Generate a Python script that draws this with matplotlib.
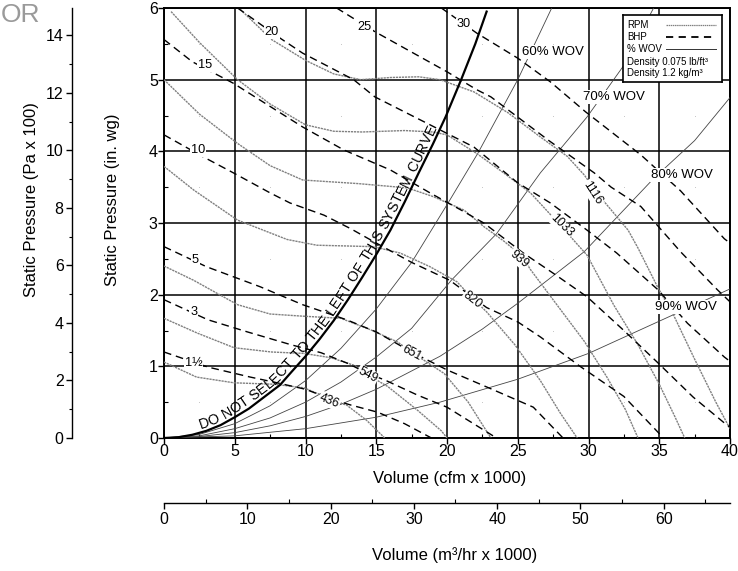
import numpy as np
import matplotlib
matplotlib.use("Agg")
import matplotlib.pyplot as plt
from matplotlib.font_manager import FontProperties
from matplotlib.ticker import MultipleLocator

plt.rcParams['font.family'] = ['Liberation Sans', 'DejaVu Sans']

# ---------------- data (Volume in cfm x 1000, pressure in in. wg) ----------------
rpm_names = ['436', '549', '651', '820', '939', '1033', '1116']
r436_x = [0, 2.3, 4.95, 7.8, 9.9, 11.1, 11.7, 12.9, 14.3, 15.6]
r436_y = [1.06, 0.85, 0.77, 0.75, 0.70, 0.60, 0.53, 0.46, 0.25, 0.0]
r549_x = [0, 2.4, 4.95, 7.6, 9.9, 11.8, 13.5, 14.4, 15.8, 17.9, 19.6, 20.0]
r549_y = [1.67, 1.46, 1.26, 1.20, 1.18, 1.12, 1.01, 0.88, 0.72, 0.39, 0.10, 0.0]
r651_x = [0, 2.1, 5.2, 7.5, 9.8, 12.5, 14.6, 16.5, 17.5, 18.1, 19.8, 21.5, 23.1]
r651_y = [2.40, 2.20, 1.86, 1.73, 1.70, 1.67, 1.51, 1.34, 1.20, 1.12, 0.90, 0.50, 0.0]
r820_x = [0, 2.1, 5.2, 8.7, 10.8, 14.8, 16.7, 18.8, 20.7, 21.7, 22.8, 24.8, 26.6, 28.0, 29.2]
r820_y = [3.79, 3.46, 3.04, 2.77, 2.69, 2.67, 2.58, 2.39, 2.18, 1.97, 1.76, 1.30, 0.80, 0.35, 0.0]
r939_x = [0, 2.5, 5.2, 7.5, 9.8, 13.7, 17.2, 19.0, 21.2, 22.6, 24.0, 25.3, 25.9, 27.8, 29.7, 31.3, 32.6, 33.5]
r939_y = [5.00, 4.52, 4.11, 3.80, 3.60, 3.55, 3.49, 3.37, 3.18, 2.95, 2.75, 2.54, 2.35, 1.85, 1.35, 0.85, 0.40, 0.0]
r1033_x = [0.5, 2.5, 5.2, 7.5, 10, 12, 14, 17, 19, 20, 22.1, 24, 25.9, 28, 29.9, 31.8, 33.5, 35.0, 36.1, 36.8]
r1033_y = [5.95, 5.52, 5.0, 4.66, 4.37, 4.28, 4.27, 4.29, 4.27, 4.23, 3.97, 3.70, 3.42, 2.97, 2.55, 1.85, 1.30, 0.75, 0.30, 0.0]
r1116_x = [5.4, 7.6, 10, 12, 13.9, 16, 18, 19.5, 21.9, 24.3, 26.6, 28.5, 29.7, 30.5, 31.1, 32.8, 33.5, 34.9, 36.0, 37.5, 39.0, 40.0]
r1116_y = [5.98, 5.56, 5.27, 5.08, 5.0, 5.03, 5.04, 5.0, 4.83, 4.54, 4.20, 3.93, 3.67, 3.45, 3.30, 2.90, 2.65, 2.10, 1.72, 1.10, 0.50, 0.13]
rpm_label_x = [11.7, 14.4, 17.5, 21.8, 25.1, 28.1, 30.3]
rpm_label_y = [0.52, 0.88, 1.19, 1.92, 2.50, 2.97, 3.42]
rpm_label_rot = [-22, -28, -28, -38, -40, -45, -57]

bhp_names = ['1½', '3', '5', '10', '15', '20', '25', '30']
b1_x = [0, 3.1, 6.1, 8.0, 10.0, 11.7, 13.2, 15.1, 17.0, 18.9]
b1_y = [1.20, 0.99, 0.85, 0.77, 0.68, 0.55, 0.46, 0.36, 0.20, 0.0]
b3_x = [0, 3.1, 5.9, 9.0, 11.1, 13.0, 14.4, 15.6, 17.9, 20.0, 23.5]
b3_y = [1.93, 1.65, 1.48, 1.30, 1.19, 1.04, 0.90, 0.81, 0.60, 0.43, 0.0]
b5_x = [0, 3.0, 6.8, 9.8, 12.9, 15.0, 17.5, 20.0, 23.3, 26.1, 28.2]
b5_y = [2.67, 2.39, 2.11, 1.86, 1.65, 1.48, 1.20, 0.95, 0.67, 0.43, 0.0]
b10_x = [0, 2.8, 4.9, 7.5, 8.9, 11.3, 13.2, 15.0, 17.5, 20.2, 22.8, 25.0, 26.6, 29.4, 32.5, 35.3]
b10_y = [4.23, 3.92, 3.70, 3.42, 3.28, 3.11, 2.92, 2.72, 2.45, 2.20, 1.82, 1.62, 1.41, 1.00, 0.58, 0.0]
b15_x = [0, 2.0, 4.9, 9.8, 12.7, 16.0, 18.8, 21.0, 22.6, 25.4, 27.5, 29.9, 32.5, 34.9, 37.4, 39.6, 40]
b15_y = [5.56, 5.25, 4.95, 4.34, 4.02, 3.74, 3.42, 3.18, 3.0, 2.58, 2.30, 1.97, 1.50, 1.05, 0.57, 0.21, 0.15]
b20_x = [5.2, 8.2, 9.8, 13.4, 14.9, 17.5, 20.0, 21.9, 25.0, 27.3, 29.9, 32.0, 34.9, 37.0, 39.6, 40]
b20_y = [6.0, 5.58, 5.37, 5.0, 4.76, 4.50, 4.25, 4.06, 3.56, 3.28, 2.90, 2.58, 2.07, 1.60, 1.13, 1.07]
b25_x = [12.2, 14.9, 20.0, 22.1, 23.1, 27.2, 30.4, 31.6, 33.7, 36.5, 39.1, 40]
b25_y = [6.0, 5.67, 5.11, 4.86, 4.76, 4.15, 3.70, 3.50, 3.23, 2.60, 2.07, 1.90]
b30_x = [19.6, 22.1, 25.0, 27.3, 29.8, 33.7, 36.5, 39.6, 40]
b30_y = [6.0, 5.65, 5.30, 4.97, 4.55, 3.95, 3.45, 2.78, 2.72]
bhp_label_x = [2.1, 2.1, 2.2, 2.4, 2.9, 7.6, 14.2, 21.2]
bhp_label_y = [1.05, 1.76, 2.49, 4.02, 5.20, 5.67, 5.73, 5.77]

wov_names = ['60% WOV', '70% WOV', '80% WOV', '90% WOV']
w60_x = [0, 2.5, 5, 7.5, 10, 12.5, 15, 17.5, 20.2, 22.2, 25.0, 27.4]
w60_y = [0, 0.05, 0.20, 0.45, 0.80, 1.25, 1.80, 2.45, 3.32, 3.98, 5.0, 6.0]
w70_x = [0, 2.5, 5, 7.5, 10, 12.5, 15, 17.5, 20.3, 23.5, 26.6, 29.9, 32.5, 34.6]
w70_y = [0, 0.03, 0.13, 0.28, 0.50, 0.78, 1.13, 1.53, 2.20, 2.85, 3.70, 4.48, 5.20, 6.0]
w80_x = [0, 2.5, 5, 7.5, 10, 12.5, 15, 19.5, 22.5, 25, 29.7, 34.6, 37.5, 40]
w80_y = [0, 0.02, 0.075, 0.17, 0.30, 0.47, 0.68, 1.14, 1.52, 1.88, 2.60, 3.62, 4.15, 4.75]
w90_x = [0, 5, 10, 15, 19.5, 25, 30, 36, 40]
w90_y = [0, 0.03, 0.13, 0.29, 0.50, 0.82, 1.18, 1.72, 2.08]
wov_label_x = [27.5, 31.8, 36.6, 36.9]
wov_label_y = [5.39, 4.76, 3.67, 1.83]

sys_x = [0, 1, 2, 3, 4, 5, 6, 7, 8.2, 9, 10, 11, 12, 13, 14, 15, 16, 17, 18, 19, 19.9, 21, 22, 22.8]
sys_y = [0, 0.01, 0.045, 0.10, 0.18, 0.29, 0.41, 0.56, 0.74, 0.92, 1.14, 1.38, 1.64, 1.93,
         2.24, 2.56, 2.90, 3.29, 3.70, 4.10, 4.48, 5.0, 5.50, 5.95]
sys_text = 'DO NOT SELECT TO THE LEFT OF THIS SYSTEM CURVE'

cfm_max = 40
inwg_max = 6
pa_per_inwg = 249.09 / 100      # Pa x 100
m3h_per_cfm = 1.699

# ---------------- layout ----------------
W, H = 738, 571
fig = plt.figure(figsize=(W / 100, H / 100), dpi=100)
def fx(px): return px / W
def fy(py): return 1 - py / H
L, R, T, B = 164, 730, 8, 438
TICK_FS = 11.5
TITLE_FS = 12

ax = fig.add_axes([fx(L), fy(B), (R - L) / W, (B - T) / H])
ax.set_xlim(0, cfm_max)
ax.set_ylim(0, inwg_max)
ax.xaxis.set_major_locator(MultipleLocator(5))
ax.xaxis.set_minor_locator(MultipleLocator(2.5))
ax.yaxis.set_major_locator(MultipleLocator(1))
ax.yaxis.set_minor_locator(MultipleLocator(0.5))
ax.tick_params(which='major', direction='out', length=4, width=1, labelsize=TICK_FS, pad=0.5)
ax.tick_params(which='minor', direction='in', length=3, width=0.8)
ax.grid(which='major', color='black', lw=1.1)
ax.set_axisbelow(True)
for s in ax.spines.values():
    s.set_linewidth(1.4)

# tiny marks in the cell centres
cx = np.arange(2.5, cfm_max, 5)
cy = np.arange(0.5, inwg_max, 1)
CX, CY = np.meshgrid(cx, cy)
ax.plot(CX.ravel(), CY.ravel(), ls='none', marker='s', ms=0.7, mew=0, color='#c8c8c8', zorder=1)

rpm_curves = [(r436_x, r436_y), (r549_x, r549_y), (r651_x, r651_y), (r820_x, r820_y),
              (r939_x, r939_y), (r1033_x, r1033_y), (r1116_x, r1116_y)]
bhp_curves = [(b1_x, b1_y), (b3_x, b3_y), (b5_x, b5_y), (b10_x, b10_y),
              (b15_x, b15_y), (b20_x, b20_y), (b25_x, b25_y), (b30_x, b30_y)]
wov_curves = [(w60_x, w60_y), (w70_x, w70_y), (w80_x, w80_y), (w90_x, w90_y)]

for xs, ys in wov_curves:
    ax.plot(xs, ys, color='#444444', lw=0.6, zorder=3)
for xs, ys in rpm_curves:
    ax.plot(xs, ys, color='#808080', lw=1.0, ls=(0, (1.6, 0.6)), zorder=4)
for xs, ys in bhp_curves:
    ax.plot(xs, ys, color='black', lw=1.0, ls=(0, (5.5, 3.5)), zorder=5)
ax.plot(sys_x, sys_y, color='black', lw=1.6, zorder=6)

wb = dict(fc='white', ec='none', pad=0.6)
for n, x, y, r in zip(rpm_names, rpm_label_x, rpm_label_y, rpm_label_rot):
    ax.text(x, y, n, rotation=r, ha='center', va='center', fontsize=8.8,
            bbox=wb, zorder=8, rotation_mode='anchor')
for n, x, y in zip(bhp_names, bhp_label_x, bhp_label_y):
    ax.text(x, y, n, ha='center', va='center', fontsize=9.2, bbox=wb, zorder=8)
for n, x, y in zip(wov_names, wov_label_x, wov_label_y):
    ax.text(x, y, n, ha='center', va='center', fontsize=9.5, bbox=wb, zorder=8)

# ---------------- text along the system curve ----------------
def text_along(ax, xs, ys, text, x_start, x_end, offset, fs):
    fig.canvas.draw()
    rend = fig.canvas.get_renderer()
    pts = ax.transData.transform(np.column_stack([xs, ys]))
    d = np.hypot(*np.diff(pts, axis=0).T)
    s = np.concatenate([[0], np.cumsum(d)])
    s0 = np.interp(x_start, xs, s)
    s1 = np.interp(x_end, xs, s)
    prop = FontProperties(family='Liberation Sans', size=fs)
    wI = rend.get_text_width_height_descent('I', prop, ismath=False)[0]
    def width(t):
        return rend.get_text_width_height_descent(t + 'I', prop, ismath=False)[0] - wI
    total = width(text)
    extra = ((s1 - s0) - total) / (len(text) - 1)
    for i, ch in enumerate(text):
        if ch == ' ':
            continue
        a = width(text[:i]) + extra * i
        b = width(text[:i + 1]) + extra * i
        sc = s0 + (a + b) / 2
        p = np.array([np.interp(sc, s, pts[:, 0]), np.interp(sc, s, pts[:, 1])])
        pa = np.array([np.interp(sc - 10, s, pts[:, 0]), np.interp(sc - 10, s, pts[:, 1])])
        pb = np.array([np.interp(sc + 10, s, pts[:, 0]), np.interp(sc + 10, s, pts[:, 1])])
        dx, dy = pb - pa
        ang = np.degrees(np.arctan2(dy, dx))
        nrm = np.array([-dy, dx]) / np.hypot(dx, dy)
        q = p + nrm * offset
        xd, yd = ax.transData.inverted().transform(q)
        ax.text(xd, yd, ch, rotation=ang, rotation_mode='anchor', ha='center',
                va='baseline', fontproperties=prop, zorder=9)

text_along(ax, sys_x, sys_y, sys_text, 2.7, 19.5, 3.5, 10.3)

# ---------------- legend box ----------------
lg = fig.add_axes([fx(623), fy(82), 99 / W, 67 / H])
lg.set_xlim(0, 99)
lg.set_ylim(67, 0)
lg.set_xticks([]); lg.set_yticks([])
for s in lg.spines.values():
    s.set_linewidth(1.2)
lg.set_zorder(10)
LFS = 7
lg.text(4, 10, 'RPM', fontsize=LFS, va='center')
lg.text(4, 22, 'BHP', fontsize=LFS, va='center')
lg.text(4, 34, '% WOV', fontsize=LFS, va='center')
lg.text(4, 47, 'Density 0.075 lb/ft³', fontsize=LFS, va='center')
lg.text(4, 58, 'Density 1.2 kg/m³', fontsize=LFS, va='center')
lg.plot([43, 93], [10, 10], color='#808080', lw=0.9, ls=(0, (1.2, 0.5)))
lg.plot([43, 93], [22, 22], color='black', lw=1.3, ls=(0, (4, 3)))
lg.plot([43, 93], [34, 34], color='#333333', lw=0.7)

# ---------------- secondary Pa axis ----------------
axp = fig.add_axes([fx(72), fy(B), 0.0005, (B - T) / H])
axp.set_ylim(0, inwg_max * pa_per_inwg)
for k in ['top', 'right', 'bottom']:
    axp.spines[k].set_visible(False)
axp.spines['left'].set_linewidth(1.0)
axp.set_xticks([])
axp.patch.set_visible(False)
axp.yaxis.set_major_locator(MultipleLocator(2))
axp.yaxis.set_minor_locator(MultipleLocator(1))
axp.tick_params(which='major', direction='out', length=4, width=1, labelsize=TICK_FS, pad=2)
axp.tick_params(which='minor', direction='out', length=2, width=0.8)

# ---------------- secondary m3/hr axis ----------------
axm = fig.add_axes([fx(L), fy(503), (R - L) / W, 0.0005])
axm.set_xlim(0, cfm_max * m3h_per_cfm)
for k in ['top', 'right', 'left']:
    axm.spines[k].set_visible(False)
axm.spines['bottom'].set_linewidth(1.0)
axm.set_yticks([])
axm.patch.set_visible(False)
axm.xaxis.set_major_locator(MultipleLocator(10))
axm.xaxis.set_minor_locator(MultipleLocator(5))
axm.tick_params(which='major', direction='out', length=4, width=1, labelsize=TICK_FS, pad=2.5)
axm.tick_params(which='minor', direction='in', length=3, width=0.8)

# ---------------- titles ----------------
fig.text(fx(32), fy(200), 'Static Pressure (Pa x 100)', rotation=90, ha='center', va='center', fontsize=TITLE_FS)
fig.text(fx(113), fy(200), 'Static Pressure (in. wg)', rotation=90, ha='center', va='center', fontsize=TITLE_FS)
fig.text(fx(450), fy(479), 'Volume (cfm x 1000)', ha='center', va='center', fontsize=TITLE_FS)
fig.text(fx(455), fy(555), 'Volume (m³/hr x 1000)', ha='center', va='center', fontsize=TITLE_FS)
fig.text(fx(1), fy(3), 'OR', ha='left', va='top', fontsize=19, color='#9a9a9a')

fig.savefig('out.png', dpi=100)
